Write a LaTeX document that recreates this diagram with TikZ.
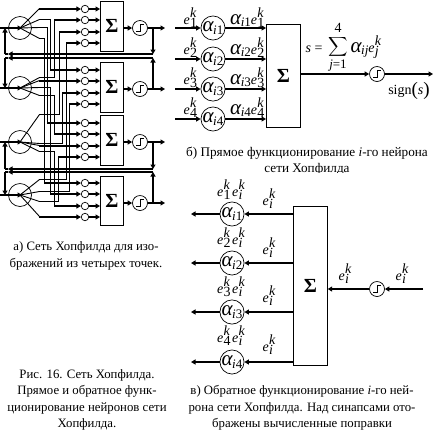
\documentclass[tikz,border=0pt]{standalone}
\usepackage{fontspec}
\usepackage{graphicx}
\setmainfont{Liberation Serif}
\usetikzlibrary{arrows.meta}
\newcommand{\E}[2]{\textit{e}\kern.3pt\rlap{\raisebox{-3pt}{#1}}\raisebox{7pt}{\textit{#2}}}
\newcommand{\Al}[1]{{\fontsize{21}{21}\selectfont\textit{α}}\kern-.8pt\raisebox{-2.5pt}{\fontsize{13}{13}\selectfont #1}}
\newcommand{\ii}{\textit{i}}
\tikzset{
  wire/.style={line width=0.9pt,xshift=.5pt,yshift=.5pt},
  bus/.style={line width=1.8pt},
  tip/.style={-{Triangle[length=4.5pt,width=5pt]}},
  bigc/.style={draw,circle,line width=0.7pt,minimum size=23pt,inner sep=0pt},
  smallc/.style={draw,circle,line width=0.7pt,minimum size=7.5pt,inner sep=0pt,fill=white},
  actc/.style={draw,circle,line width=0.7pt,minimum size=15pt,inner sep=0pt,fill=white},
  syn/.style={draw,circle,line width=0.7pt,minimum size=22pt,inner sep=0pt,fill=white},
  sbox/.style={draw,line width=0.7pt,fill=white,inner sep=0pt,font=\fontsize{20}{20}\selectfont\bfseries},
  captxt/.style={font=\fontsize{12.8}{13}\selectfont,inner sep=0pt,align=center},
  lab/.style={font=\fontsize{14}{14}\selectfont,inner sep=0pt,anchor=base},
}
\begin{document}
\begin{tikzpicture}[x=1pt,y=-1pt]
\useasboundingbox (0,0) rectangle (438,432);
% ---- network (a)
\foreach \i/\y in {1/28,2/88,3/142,4/195}{ \node[bigc] (n\i) at (20,\y) {}; \coordinate (in\i) at (0,\y); }
\foreach \i/\t/\h/\ay in {1/1/50/28,2/62/50/89,3/115/50/142,4/176/49/203}{
  \node[sbox,minimum width=23pt,minimum height=\h pt,anchor=north west] (b\i) at (100,\t) {Σ};
  \node[actc] (a\i) at (140,\ay) {};
  \coordinate (o\i) at (165,\ay);
  \draw[bus,tip] (b\i.east |- a\i) -- (a\i);
  \draw[bus,tip] (a\i) -- (o\i);
  \draw[wire,shift={(a\i.center)}] (-4,3.5) -- (0,3.5) -- (0,-3.5) -- (4,-3.5);
}
\foreach \r/\ya/\yb/\yc/\yd in {1/9/20/32/43,2/70/81/93/104,3/123/134/146/157,4/183/194/206/217}{
  \foreach \s/\y in {1/\ya,2/\yb,3/\yc,4/\yd}{
    \node[smallc] (c\r\s) at (85,\y) {};
    \draw[bus,tip] (c\r\s) -- (b\r.west |- c\r\s);
  }
}
% internal wiring: source neuron, bend points, vertical, target small circle
\foreach \n/\bx/\by/\vx/\r/\s in {
  1/39/20/50/2/1, 1/39/28/47/3/1, 1/39/39/44/4/1,
  2/39/78/54/1/2, 2/39/96/54/3/2, 2/39/88/50/4/2,
  3/39/115/59/1/3, 3/39/144/62/2/3, 3/39/152/54/4/3,
  4/39/180/66/1/4, 4/39/192/69/2/4, 4/39/202/58/3/4}{
  \draw[wire] (n\n.center) -- (\bx,\by) -- (\vx,\by) -- (\vx,0 |- c\r\s);
  \draw[bus,tip] (\vx,0 |- c\r\s) -- (c\r\s);
}
\foreach \i/\s/\y in {1/1/9,2/2/81,3/3/146,4/4/217}{
  \draw[wire] (n\i.center) -- (39,\y);
  \draw[bus,tip] (39,\y) -- (c\i\s);
}
\foreach \i in {1,2,3,4}{ \draw[bus,tip] (in\i) -- ([xshift=2pt]n\i.center); }
% feedback buses
\foreach \i/\j/\ya/\yb in {1/2/54/58,3/4/169/172}{
  \coordinate (fa\i) at (153,\ya); \coordinate (fb\i) at (153,\yb);
  \coordinate (la\i) at (5,\ya); \coordinate (lb\i) at (5,\yb);
  \draw[bus,tip] (153,0 |- a\i) -- (fa\i);
  \draw[bus,tip] (153,0 |- a\j) -- (fb\i);
  \draw[bus,tip] (fa\i) -- (8,\ya);
  \draw[bus,tip] (fb\i) -- (8,\yb);
  \draw[bus] (8,\ya) -- (la\i);
  \draw[bus] (8,\yb) -- (lb\i);
  \draw[bus,tip] (la\i) -- (5,0 |- n\i);
  \draw[bus,tip] (lb\i) -- (5,0 |- n\j);
}
% ---- forward (b)
\node[sbox,minimum width=34pt,minimum height=103pt,anchor=north west] (B) at (266,24) {Σ};
\foreach \i/\y/\ly in {1/28/24,2/59/54,3/89/84,4/119/114}{
  \node[syn] (s\i) at (213,\y) {\Al{\ii\i}};
  \coordinate (si\i) at (175,\y);
  \draw[bus,tip] (si\i) -- (s\i);
  \draw[bus,tip] (s\i) -- (B.west |- s\i);
  \node[lab] (el\i) at (190,\ly) {\E{\i}{k}};
  \node[lab] (ol\i) at (247,\ly) {\Al{\ii\i}\E{\i}{k}};
}
\node[actc] (A) at (377,74) {};
\draw[wire,shift={(A.center)}] (-4,3.5) -- (0,3.5) -- (0,-3.5) -- (4,-3.5);
\coordinate (Out) at (433,74);
\draw[bus,tip] (B.east |- A) -- (A);
\draw[bus,tip] (A) -- (Out);
\node[lab] (seq) at (314,52) {\textit{s} =};
\node[inner sep=0pt] (sumS) at (338,47) {\scalebox{1.35}{$\displaystyle\sum$}};
\node[inner sep=0pt,font=\fontsize{14}{14}\selectfont] (sumT) at (338,28) {4};
\node[inner sep=0pt,font=\fontsize{13}{13}\selectfont] (sumB) at (338,66) {\textit{j}=1};
\node[lab] (sumA) at (366,52) {\Al{\ii\textit{j}}\E{\textit{j}}{k}};
\node[lab] (sgn) at (409,94) {sign{\fontsize{19}{19}\selectfont\raisebox{-1pt}{(}}\textit{s}{\fontsize{19}{19}\selectfont\raisebox{-1pt}{)}}};
\begin{scope}
\clip (170,140) rectangle (438,172);
\node[captxt,font=\fontsize{13.2}{13}\selectfont] (capb) at (307,161) {б) Прямое функционирование \textit{i}-го нейрона\\[3.3pt]сети Хопфилда};
\end{scope}
% ---- backward (c)
\node[sbox,minimum width=34pt,minimum height=159pt,anchor=north west] (C) at (293,206) {Σ};
\foreach \i/\y/\la/\lb in {1/214/196/205,2/263/244/254,3/312/293/302,4/362/342/351}{
  \node[syn] (r\i) at (232,\y) {\Al{\ii\i}};
  \coordinate (ro\i) at (191,\y);
  \draw[bus,tip] (C.west |- r\i) -- (r\i);
  \draw[bus,tip] (r\i) -- (ro\i);
  \node[lab] (pl\i) at (231,\la) {\E{\i}{k}\kern2pt\E{\ii}{k}};
  \node[lab] (ql\i) at (269,\lb) {\E{\ii}{k}};
}
\node[actc] (D) at (377,289) {};
\draw[wire,shift={(D.center)}] (-4,3.5) -- (0,3.5) -- (0,-3.5) -- (4,-3.5);
\coordinate (Din) at (423,289);
\draw[bus,tip] (Din) -- (D);
\draw[bus,tip] (D) -- (C.east |- D);
\node[lab] (dl1) at (345,280) {\E{\ii}{k}};
\node[lab] (dl2) at (402,280) {\E{\ii}{k}};
% ---- captions
\node[captxt] (capa) at (86,256) {а) Сеть Хопфилда для изо-\\[3.3pt]бражений из четырех точек.};
\node[captxt] (capf) at (87,400) {Рис. 16. Сеть Хопфилда.\\[3.3pt]Прямое и обратное функ-\\[3.3pt]ционирование нейронов сети\\[3.3pt]Хопфилда.};
\node[captxt] (capc) at (302,408) {в) Обратное функционирование \textit{i}-го ней-\\[3.3pt]рона сети Хопфилда. Над синапсами ото-\\[3.3pt]бражены вычисленные поправки};
\end{tikzpicture}
\end{document}
